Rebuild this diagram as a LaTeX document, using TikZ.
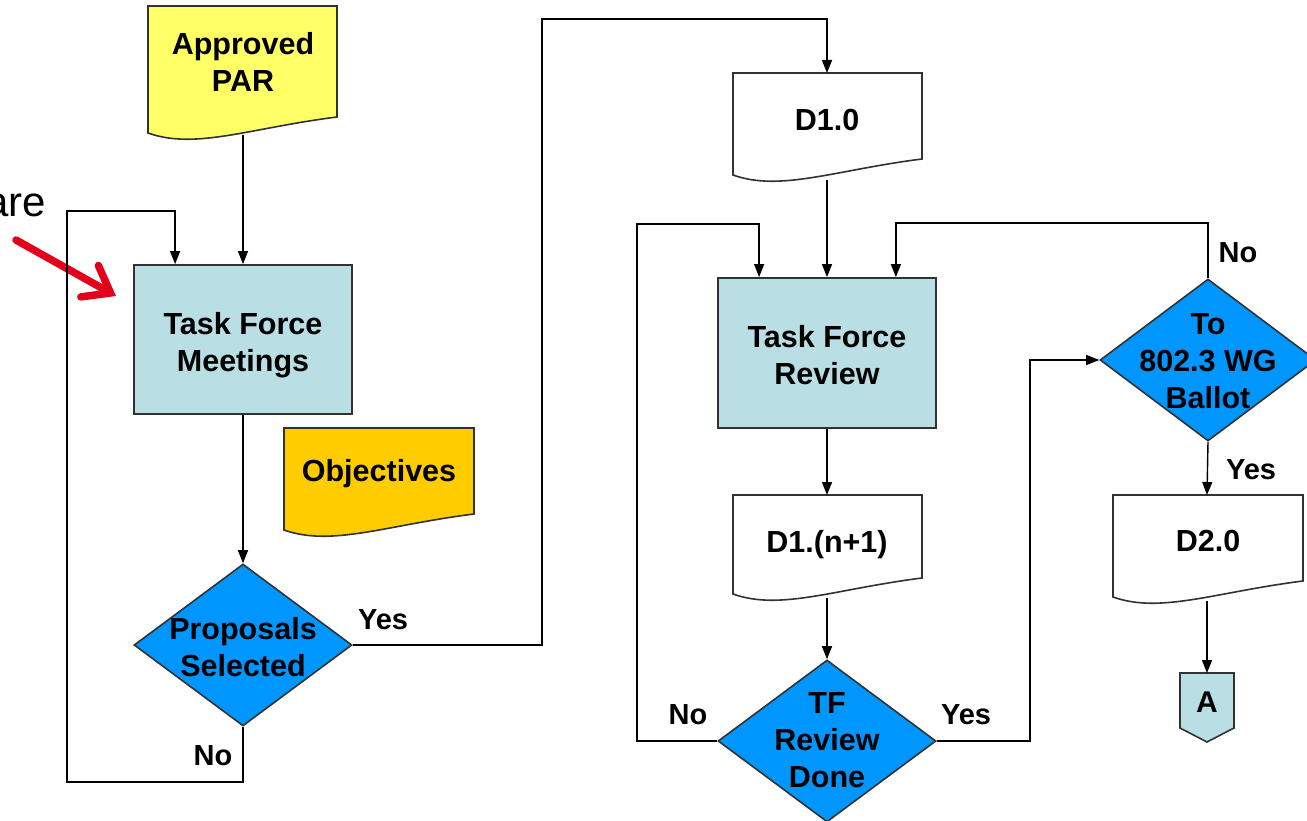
\documentclass[tikz,border=0pt]{standalone}
\usepackage{fontspec}
\setmainfont{Liberation Sans}
\usetikzlibrary{arrows.meta,shapes.geometric,calc}
\definecolor{parY}{RGB}{255,255,102}
\definecolor{objY}{RGB}{255,204,0}
\definecolor{boxB}{RGB}{185,222,227}
\definecolor{diaB}{RGB}{0,150,255}
\definecolor{edge}{RGB}{50,50,50}
\definecolor{redA}{RGB}{227,0,27}
% L, R, T, yl(left bottom), fill
\newcommand\docshape[5]{%
  \path[draw=edge, line width=1.6pt, fill=#5] (#1,#3) -- (#2,#3) -- ({#2},{#4-16})
    .. controls ({#1+0.54*(#2-#1)},{#4-5}) and ({#1+0.25*(#2-#1)},{#4+17}) .. (#1,#4) -- cycle;}
\begin{document}
\begin{tikzpicture}[x=1pt,y=-1pt,
  txt/.style={font=\fontsize{30.5}{37}\selectfont\bfseries, align=center, inner sep=0},
  lbl/.style={font=\fontsize{29}{34}\selectfont\bfseries, inner sep=0},
  proc/.style={draw=edge, line width=1.8pt, fill=boxB, minimum width=218pt, minimum height=149pt, inner sep=0},
  dia/.style={diamond, draw=edge, line width=1.6pt, fill=diaB, minimum width=216pt, minimum height=162pt, inner sep=0},
  arr/.style={draw=black, line width=1.4pt, -{Triangle[length=13pt,width=10pt]}},
  lin/.style={draw=black, line width=1.4pt}]
\useasboundingbox (0,0) rectangle (1307,821);
% annotation
\node[font=\fontsize{42}{50}\selectfont, anchor=base east, inner sep=0] (are) at (46,217) {are};
\coordinate (rs) at (16,240);
\coordinate (re) at (116,296);
\draw[redA, line width=7.5pt, line cap=round, -{Straight Barb[length=24pt,width=36pt,line cap=round]}] (rs) -- (re);
% document shapes
\docshape{148}{337}{6}{133}{parY}
\docshape{284}{474}{428}{530}{objY}
\docshape{733}{922}{73}{175}{white}
\docshape{733}{922}{495}{594}{white}
\docshape{1113}{1303}{495}{597}{white}
\node[txt] (par) at (243,62) {Approved\\PAR};
\node[txt] (obj) at (379,474) {Objectives};
\node[txt] (d10) at (827,120) {D1.0};
\node[txt] (dn) at (827,545) {D1.(n+1)};
\node[txt] (d20) at (1208,541) {D2.0};
\coordinate (parb) at (243,135);
\coordinate (d10t) at (827,73);
\coordinate (d10b) at (827,180);
\coordinate (dnt) at (827,495);
\coordinate (dnb) at (827,598);
\coordinate (d20t) at (1207,495);
\coordinate (d20b) at (1207,601);
% process boxes
\node[proc] (tfm) at (243,339.5) {};
\node[txt] at ($(tfm.center)+(0,6)$) {Task Force\\Meetings};
\node[proc, minimum height=150pt] (tfr) at (827,353) {};
\node[txt] at ($(tfr.center)+(0,2)$) {Task Force\\Review};
% decisions
\node[dia, minimum width=218pt] (q1) at (243,645) {};
\node[txt] at ($(q1.center)+(0,2)$) {Proposals\\Selected};
\node[dia, minimum width=218pt] (q2) at (827,741) {};
\node[txt] at ($(q2.center)+(0,-1)$) {TF\\Review\\Done};
\node[dia] (q3) at (1208,360) {};
\node[txt] at ($(q3.center)+(0,1)$) {To\\802.3 WG\\Ballot};
% off-page connector
\path[draw=edge, line width=1.6pt, fill=boxB] (1180,673) -- (1234,673) -- (1234,728) -- (1207,742) -- (1180,728) -- cycle;
\coordinate (At) at (1207,673);
\node[font=\fontsize{30}{34}\selectfont\bfseries, inner sep=0] (A) at (1207,702) {A};
% connectors
\draw[arr] (parb) -- (tfm.north);
\draw[arr] (tfm.south) -- (q1.north);
\draw[arr] (q1.south) -- ++(0,55) -| (67,211) -| ($(tfm.north west)+(42,0)$);
\draw[arr] (q1.east) -| (542,19) -| (d10t);
\draw[arr] (d10b) -- (tfr.north);
\draw[arr] (tfr.south) -- (dnt);
\draw[arr] (dnb) -- (q2.north);
\draw[arr] (q2.west) -| (637,224) -| ($(tfr.north west)+(42,0)$);
\draw[arr] (q2.east) -| (1030,360) -- (q3.west);
\draw[arr] (q3.north) |- ($(tfr.north east)+(-41,-54)$) -- ($(tfr.north east)+(-41,0)$);
\draw[arr] (q3.south) -- (d20t);
\draw[arr] (d20b) -- (At);
% labels
\node[lbl] at (383,620) {Yes};
\node[lbl] at (213,756) {No};
\node[lbl] at (688,715) {No};
\node[lbl] at (966,715) {Yes};
\node[lbl] at (1238,253) {No};
\node[lbl] at (1251,470) {Yes};
\end{tikzpicture}
\end{document}
